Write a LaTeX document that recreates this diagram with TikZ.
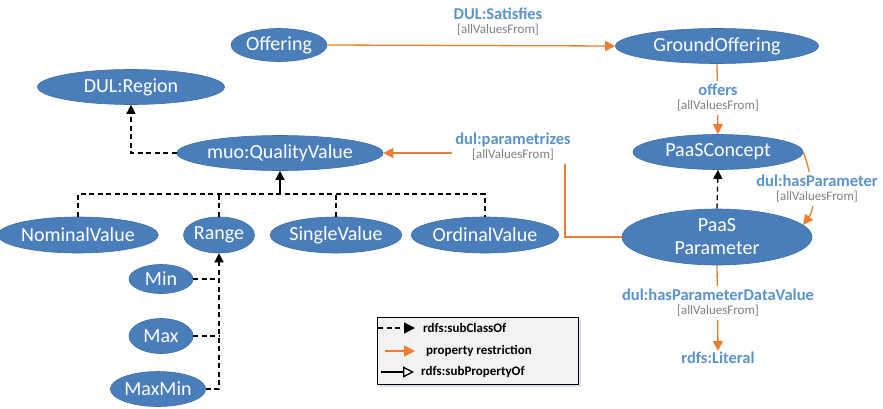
\documentclass[tikz,border=0pt]{standalone}
\usepackage{fontspec}
\setmainfont{Carlito}
\usetikzlibrary{shapes.geometric,arrows.meta}
\definecolor{nodeblue}{HTML}{4A7EBB}
\definecolor{nodeedge}{HTML}{3C6DA6}
\definecolor{lblblue}{HTML}{5B93CB}
\definecolor{lblgray}{HTML}{808080}
\definecolor{propor}{HTML}{ED7D31}
\definecolor{legfill}{HTML}{F2F2F2}
\definecolor{legshadow}{HTML}{D9E2EE}
\newcommand{\avf}{\\{\fontsize{13}{14}\selectfont\mdseries\color{lblgray}[allValuesFrom]}}
\begin{document}
\begin{tikzpicture}[x=1pt,y=-1pt,
  cls/.style={ellipse,fill=nodeblue,draw=nodeedge,line width=0.6,text=white,inner sep=0pt,
    font=\fontsize{20}{23}\selectfont,align=center},
  subcls/.style={draw=black,line width=1.3,dash pattern=on 5 off 3.5,-{Triangle[length=9,width=9]}},
  dline/.style={draw=black,line width=1.3,dash pattern=on 5 off 3.5},
  solidsub/.style={draw=black,line width=1.3,-{Triangle[length=9,width=9]}},
  prop/.style={draw=propor,line width=1.3,-{Triangle[length=10,width=10]}},
  lbl/.style={fill=white,align=center,inner sep=3pt,text=lblblue,
    font=\fontsize{16.5}{14}\selectfont\bfseries},
  legtext/.style={anchor=west,inner sep=0pt,font=\fontsize{13}{14}\selectfont\bfseries},
]
\useasboundingbox (0,0) rectangle (883,408);

% class nodes
\node[cls,minimum width=96,minimum height=33] (off) at (279,45) {Offering};
\node[cls,minimum width=203,minimum height=35] (go) at (717,46) {GroundOffering};
\node[cls,minimum width=187,minimum height=35] (reg) at (131,87) {DUL:Region};
\node[cls,minimum width=186,minimum height=35] (qv) at (280,153) {muo:QualityValue};
\node[cls,minimum width=170,minimum height=35] (pc) at (718,152) {PaaSConcept};
\node[cls,minimum width=190,minimum height=56] (pp) at (717,237) {PaaS\\Parameter};
\node[cls,minimum width=138,minimum height=36] (nv) at (78,235) {NominalValue};
\node[cls,minimum width=66,minimum height=36] (rg) at (219,235) {Range};
\node[cls,minimum width=124,minimum height=36] (sv) at (336,235) {SingleValue};
\node[cls,minimum width=134,minimum height=36] (ov) at (485,235) {OrdinalValue};
\node[cls,minimum width=64,minimum height=29] (mn) at (161,279) {Min};
\node[cls,minimum width=64,minimum height=35] (mx) at (161,336) {Max};
\node[cls,minimum width=78,minimum height=35] (mm) at (158,389) {MaxMin};
\node[inner sep=1pt,text=lblblue,font=\fontsize{16.5}{18}\selectfont\bfseries] (lit) at (718,358) {rdfs:Literal};

% subclass relations
\coordinate (bus) at (280,194);
\draw[subcls] (qv.west) -| (reg.south);
\draw[dline] (nv.north) |- (bus) -| (ov.north);
\draw[dline] (rg.north) -- (rg.north |- bus);
\draw[dline] (sv.north) -- (sv.north |- bus);
\draw[solidsub] (bus) -- (qv.south);
\draw[dline] (mn.east) -- (mn.east -| rg.south);
\draw[dline] (mx.east) -- (mx.east -| rg.south);
\draw[subcls] (mm.east) -| (rg.south);
\draw[subcls] (pp.north) -- (pc.south);

% property restrictions
\draw[prop] (off.east) -- (go.west);
\node[lbl] (l1) at (498,22) {DUL:Satisfies\avf};
\draw[prop] (go.south) -- (pc.north);
\node[lbl] (l2) at (718,98) {offers\avf};
\draw[prop] (pp.west) -| (565,153) -- (qv.east);
\node[lbl] (l3) at (513,147) {dul:parametrizes\avf};
\draw[prop] (pc.east) .. controls (810,170) and (818,205) .. (pp.8);
\node[lbl] (l4) at (817,189) {dul:hasParameter\avf};
\draw[prop] (pp.south) -- (lit.north);
\node[lbl] (l5) at (718,303) {dul:hasParameterDataValue\avf};

% legend
\fill[legshadow] (380,320) rectangle (581,387);
\draw[fill=legfill,line width=0.8] (377,317) rectangle (578,384);
\coordinate (a1) at (378,328); \coordinate (b1) at (415,328);
\coordinate (a2) at (385,351); \coordinate (b2) at (415,351);
\coordinate (a3) at (381,372); \coordinate (b3) at (414,372);
\draw[draw=black,line width=1.3,dash pattern=on 5 off 3.5,-{Triangle[length=11,width=11]}] (a1) -- (b1);
\draw[draw=propor,line width=1.5,-{Triangle[length=11,width=11]}] (a2) -- (b2);
\draw[draw=black,line width=1.3,-{Triangle[open,length=11,width=11,fill=white]}] (a3) -- (b3);
\node[legtext] (t1) at (423,328) {rdfs:subClassOf};
\node[legtext] (t2) at (426,351) {property restriction};
\node[legtext] (t3) at (421,372) {rdfs:subPropertyOf};
\end{tikzpicture}
\end{document}
